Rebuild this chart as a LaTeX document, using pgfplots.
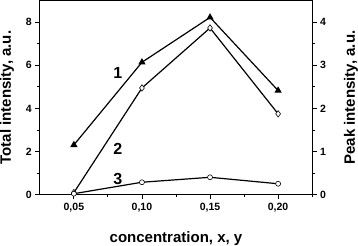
\documentclass[border=0pt]{standalone}
\usepackage{fontspec}
\setmainfont{Liberation Sans}
\usepackage{pgfplots}
\pgfplotsset{compat=1.18}
\begin{document}
\begin{tikzpicture}[font=\bfseries]
\pgfplotsset{
  common/.style={
    scale only axis, width=272pt, height=194pt,
    xmin=0.025, xmax=0.225,
    tick align=outside,
    major tick length=4.5pt, minor tick length=2.5pt,
    every tick/.style={black, line width=0.9pt},
    axis line style={line width=1.1pt},
    tick label style={font=\fontsize{10.5}{11}\selectfont\bfseries},
    label style={font=\fontsize{15}{16}\selectfont\bfseries, inner sep=0pt},
  }
}
\begin{axis}[common,
  ymin=0, ymax=9,
  xtick={0.05,0.10,0.15,0.20},
  xticklabels={{0,05},{0,10},{0,15},{0,20}},
  minor xtick={0.075,0.125,0.175,0.225},
  ytick={0,2,4,6,8},
  yticklabels={0,2,4,6,8},
  minor ytick={1,3,5,7},
  xtick pos=left, ytick pos=left,
  xlabel={concentration, x, y},
  ylabel={Total intensity, a.u.},
  xlabel style={at={(axis description cs:0.5,0)}, anchor=south, yshift=-51pt},
  ylabel style={at={(axis description cs:0,0.5)}, anchor=north, yshift=40pt},
]
\addplot[black, line width=1.2pt, mark=triangle*, mark size=3pt, mark options={fill=black}]
  coordinates {(0.05,2.31) (0.10,6.14) (0.15,8.22) (0.20,4.83)};
\addplot[black, line width=1.2pt, mark=diamond*, mark size=3.2pt, mark options={fill=white, line width=0.6pt}]
  coordinates {(0.05,0.10) (0.10,4.95) (0.15,7.73) (0.20,3.75)};
\addplot[black, line width=1.2pt, mark=*, mark size=2.5pt, mark options={fill=white, line width=0.6pt}]
  coordinates {(0.05,0.05) (0.10,0.58) (0.15,0.81) (0.20,0.51)};
\node[font=\fontsize{16}{17}\selectfont\bfseries] at (axis cs:0.0822,5.66) {1};
\node[font=\fontsize{16}{17}\selectfont\bfseries] at (axis cs:0.0822,2.14) {2};
\node[font=\fontsize{16}{17}\selectfont\bfseries] at (axis cs:0.0822,0.75) {3};
\end{axis}
\begin{axis}[common,
  ymin=0, ymax=4.5,
  axis y line*=right, axis x line=none,
  ytick={0,1,2,3,4},
  yticklabels={0,1,2,3,4},
  minor ytick={0.5,1.5,2.5,3.5},
  ylabel={Peak intensity, a.u.},
  ylabel style={at={(axis description cs:1,0.5)}, anchor=south, yshift=-46pt},
]
\addplot[draw=none] coordinates {(0.05,0)};
\end{axis}
\end{tikzpicture}
\end{document}
